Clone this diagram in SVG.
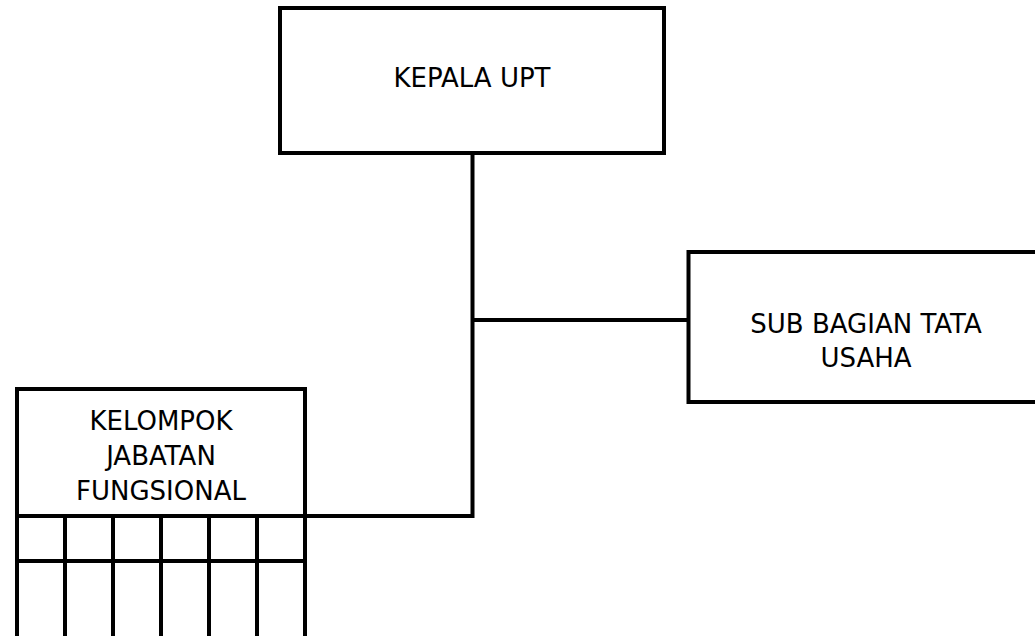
<svg xmlns="http://www.w3.org/2000/svg" width="1035" height="636" viewBox="0 0 1035 636">
<style>
.box{fill:#fff;stroke:#000;stroke-width:4}
.ln{fill:none;stroke:#000;stroke-width:4}
.t{font-family:"DejaVu Sans",Verdana,sans-serif;font-size:26px;fill:#000;text-anchor:middle}
</style>
<rect width="1035" height="636" fill="#fff"/>
<g id="connectors">
<polyline class="ln" points="472.5,153 472.5,516 305,516"/>
<line class="ln" x1="472.5" y1="320" x2="688.5" y2="320"/>
</g>
<g id="kepala-upt">
<rect class="box" x="280" y="8" width="384" height="145"/>
<text class="t" x="472" y="87">KEPALA UPT</text>
</g>
<g id="sub-bagian-tata-usaha">
<rect class="box" x="688.5" y="252" width="360" height="150"/>
<text class="t" x="866" y="333">SUB BAGIAN TATA</text>
<text class="t" x="866" y="367">USAHA</text>
</g>
<g id="kelompok-jabatan-fungsional">
<rect class="box" x="17" y="389" width="288" height="260"/>
<text class="t" x="161" y="430">KELOMPOK</text>
<text class="t" x="161" y="465">JABATAN</text>
<text class="t" x="161" y="500">FUNGSIONAL</text>
<line class="ln" x1="17" y1="516" x2="305" y2="516"/>
<line class="ln" x1="15" y1="561" x2="303" y2="561"/>
<line class="ln" x1="65" y1="516" x2="65" y2="640"/>
<line class="ln" x1="113" y1="516" x2="113" y2="640"/>
<line class="ln" x1="161" y1="516" x2="161" y2="640"/>
<line class="ln" x1="209" y1="516" x2="209" y2="640"/>
<line class="ln" x1="257" y1="516" x2="257" y2="640"/>
</g>
</svg>
